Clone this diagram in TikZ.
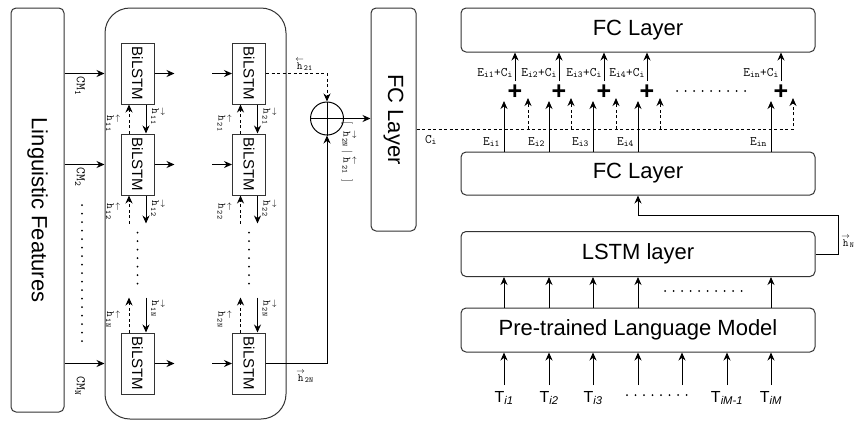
\documentclass[tikz,border=0pt]{standalone}
\usepackage{fontspec}
\usepackage{graphicx}
\setmainfont{Liberation Sans}
\usetikzlibrary{arrows.meta,calc}
\newcommand{\hr}{\stackrel{\rightarrow}{\mathtt{h}}}
\newcommand{\hlft}{\stackrel{\leftarrow}{\mathtt{h}}}
\begin{document}
\begin{tikzpicture}[x=1pt,y=-1pt,
  ln/.style={line width=1pt, draw=black},
  arr/.style={ln, -{Stealth[length=8pt,width=7pt]}},
  dsh/.style={dash pattern=on 3pt off 2.5pt},
  rbox/.style={draw=black!80, line width=1pt, rounded corners=5pt, inner sep=0pt},
  big/.style={font=\fontsize{22}{24}\selectfont},
  bil/.style={draw=black!80, line width=1pt, minimum width=33pt, minimum height=61pt, inner sep=0pt, font=\fontsize{15}{16}\selectfont},
  hl/.style={font=\fontsize{11}{12}\selectfont, inner sep=0pt},
  hlr/.style={hl, rotate=-90},
  el/.style={font=\fontsize{13}{14}\selectfont\ttfamily, inner sep=0pt},
  dotl/.style={line width=2pt, line cap=round, dash pattern=on 0pt off 8.5pt},
  tl/.style={font=\fontsize{16}{18}\selectfont, inner sep=0pt},
  plusn/.style={font=\fontsize{25}{25}\selectfont\bfseries, inner sep=0pt}
]
\useasboundingbox (0,0) rectangle (857,421);

% Linguistic features
\node[rbox, minimum width=53pt, minimum height=404pt, big] (lf) at (37.5,210) {\rotatebox{-90}{Linguistic Features}};
% BiLSTM block
\node[rbox, rounded corners=25pt, minimum width=181pt, minimum height=411pt] (outer) at (195.5,213.5) {};
\foreach \c/\x in {1/137.5,2/249} {
  \foreach \r/\y in {1/73.5,2/164.5,3/363.5} {
    \node[bil] (b\c\r) at (\x,\y) {\rotatebox{-90}{BiLSTM}};
  }
}
% CM inputs
\foreach \r in {1,2,3} {
  \draw[arr] (lf.east |- b1\r.center) -- (outer.west |- b1\r.center);
}
\node[el, rotate=-90] (cm1) at (80,86) {CM\textsubscript{1}};
\node[el, rotate=-90] (cm2) at (80,177) {CM\textsubscript{2}};
\node[el, rotate=-90] (cmN) at (80,386) {CM\textsubscript{N}};
\draw[dotl] (82,205) -- (82,342);

% column outputs / inputs
\foreach \r in {1,2,3} {
  \draw[arr] (b1\r.east) -- ++(20,0);
  \draw[arr] ($(b2\r.west)+(-20,0)$) -- (b2\r.west);
}
% vertical connections
\foreach \c in {1,2} {
  \draw[arr] ([xshift=8.5pt]b\c1.south) -- ([xshift=8.5pt]b\c2.north);
  \draw[arr,dsh] ([xshift=-8.5pt]b\c2.north) -- ([xshift=-8.5pt]b\c1.south);
  \draw[arr] ([xshift=8.5pt]b\c2.south) -- ++(0,28);
  \draw[arr,dsh] ($(b\c2.south)+(-8.5,28)$) -- ([xshift=-8.5pt]b\c2.south);
  \draw[arr] ($(b\c3.north)+(8.5,-35)$) -- ([xshift=8.5pt]b\c3.north);
  \draw[arr,dsh] ([xshift=-8.5pt]b\c3.north) -- ++(0,-35);
  \draw[dotl] ($(b\c2.south)+(0,37)$) -- ($(b\c3.north)+(0,-46)$);
}
% h labels
\foreach \c/\x in {1/137.5,2/249} {
  \foreach \s/\ya/\yb in {1/116/123,2/208/211,N/308/319} {
    \node[hlr] (hr\c\s) at (\x+20.5,\ya) {$\hr_{\mathtt{\c\s}}$};
    \node[hlr] (hl\c\s) at (\x-24.5,\yb) {$\hlft_{\mathtt{\c\s}}$};
  }
}

% concatenation
\node[circle, draw=black, line width=1pt, minimum size=33pt, inner sep=0pt] (sum) at (327,118.5) {};
\draw[ln] (sum.north) -- (sum.south) (sum.west) -- (sum.east);
\draw[arr,dsh] (b21.east) -| (sum.north);
\draw[arr] (b23.east) -| (sum.south);
\node[hl] (h21top) at (304,64) {$\hlft_{\mathtt{21}}$};
\node[hl] (h2Nbot) at (305,376) {$\hr_{\mathtt{2N}}$};

\node[rbox, minimum width=45pt, minimum height=223pt, big] (fcv) at (393.5,119.5) {\rotatebox{-90}{FC Layer}};
\draw[arr] (sum.east) -- (sum.east -| fcv.west);
\node[hlr] (cat) at (349,152) {$[\;\;\hr_{\mathtt{2N}}\;\mid\;\hlft_{\mathtt{21}}\;\;]$};

% right side boxes
\node[rbox, minimum width=354pt, minimum height=44pt, big] (fc1) at (638,30) {FC Layer};
\node[rbox, minimum width=354pt, minimum height=43pt, big] (fc2) at (638,173.5) {FC Layer};
\node[rbox, minimum width=354pt, minimum height=45pt, big] (lstm) at (638,254) {LSTM layer};
\node[rbox, minimum width=354pt, minimum height=44pt, big] (pt) at (638,330) {Pre-trained Language Model};

% C_i line
\coordinate (ci) at (793,129);
\draw[arr,dsh] (fcv.east |- ci) -- (ci) -- ++(0,-31);
\node[el] (cil) at (431,140) {C\textsubscript{i}};
\foreach \i/\d in {1/528,2/571,3/616,4/660} {
  \coordinate (d\i) at (\d,98);
  \draw[arr,dsh] (d\i |- ci) -- (d\i);
}

% plus nodes and E arrows
\foreach \i/\e/\p/\lab in {1/504/515/1,2/549/559/2,3/593/604/3,4/638/647/4,5/771/781/n} {
  \node[plusn] (p\i) at (\p,92) {+};
  \coordinate (e\i) at (\e,101);
  \draw[arr] (e\i |- fc2.north) -- (e\i);
  \node[el, anchor=east] (el\i) at (\e-4,142) {E\textsubscript{i\lab}};
  \coordinate (u\i) at (\p,81);
  \draw[arr] (u\i) -- (u\i |- fc1.south);
  \node[el, anchor=east] (ecl\i) at (\p-2,73) {E\textsubscript{i\lab}+C\textsubscript{i}};
}
\draw[dotl] (677,91) -- (752,91);

% h_N feedback
\draw[arr] (lstm.east) -- ++(23,0) -- ++(0,-39) -| (fc2.south);
\node[hl] (hn) at (848,241) {$\hr_{\mathtt{N}}$};

% tokens
\foreach \i/\x in {1/504,2/549,3/593,4/638,5/682,6/727,7/771} {
  \coordinate (a\i) at (\x,385);
  \draw[arr] (a\i) -- (a\i |- pt.south);
}
\foreach \i in {1,2,3,4,7} {
  \draw[arr] (a\i |- pt.north) -- (a\i |- lstm.south);
}
\draw[dotl] (665,291) -- (747,291);
\node[tl] (t1) at (504,398) {T\textsubscript{\itshape i1}};
\node[tl] (t2) at (549,398) {T\textsubscript{\itshape i2}};
\node[tl] (t3) at (593,398) {T\textsubscript{\itshape i3}};
\node[tl] (t6) at (727,398) {T\textsubscript{\itshape iM-1}};
\node[tl] (t7) at (771,398) {T\textsubscript{\itshape iM}};
\draw[dotl] (627,395) -- (690,395);
\end{tikzpicture}
\end{document}
